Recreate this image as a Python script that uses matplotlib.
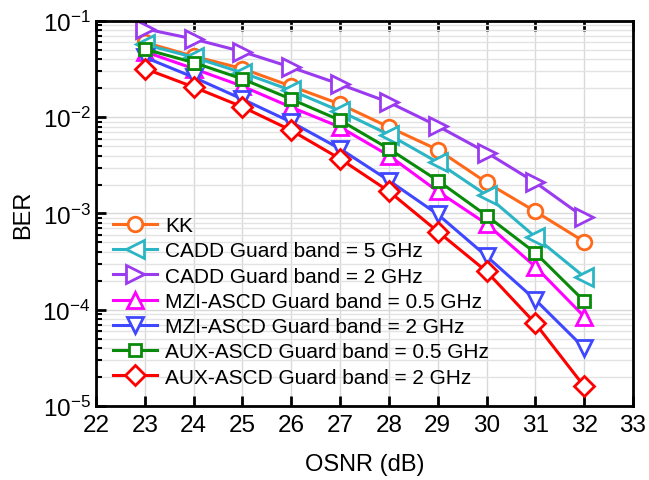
import matplotlib
matplotlib.use("Agg")
import matplotlib.pyplot as plt
from matplotlib.ticker import LogLocator, NullFormatter, FixedLocator

plt.rcParams['font.family'] = ['Liberation Sans', 'DejaVu Sans']

osnr = [23, 24, 25, 26, 27, 28, 29, 30, 31, 32]

ber_kk = [0.060, 0.043, 0.032, 0.021, 0.0137, 0.0079, 0.0046, 0.0021, 0.00105, 0.00051]
ber_cadd5 = [0.057, 0.042, 0.029, 0.019, 0.0116, 0.0066, 0.0034, 0.00155, 0.00057, 0.00022]
ber_cadd2 = [0.083, 0.065, 0.048, 0.033, 0.022, 0.0143, 0.0081, 0.0043, 0.0021, 0.00091]
ber_mzi05 = [0.048, 0.032, 0.021, 0.0127, 0.0079, 0.0040, 0.0017, 0.00078, 0.00028, 8.5e-5]
ber_mzi2 = [0.042, 0.026, 0.0154, 0.0089, 0.0047, 0.0022, 0.00098, 0.00036, 0.000127, 4.0e-5]
ber_aux05 = [0.051, 0.037, 0.025, 0.0154, 0.0093, 0.0047, 0.0022, 0.00095, 0.00039, 0.000123]
ber_aux2 = [0.032, 0.0206, 0.0128, 0.0073, 0.0037, 0.0017, 0.00065, 0.00025, 7.2e-5, 1.6e-5]

labels = ["KK",
          "CADD Guard band = 5 GHz",
          "CADD Guard band = 2 GHz",
          "MZI-ASCD Guard band = 0.5 GHz",
          "MZI-ASCD Guard band = 2 GHz",
          "AUX-ASCD Guard band = 0.5 GHz",
          "AUX-ASCD Guard band = 2 GHz"]

x_ticks = [22, 23, 24, 25, 26, 27, 28, 29, 30, 31, 32, 33]

series = [ber_kk, ber_cadd5, ber_cadd2, ber_mzi05, ber_mzi2, ber_aux05, ber_aux2]
colors = ['#FF6A1A', '#2CB5C4', '#9B3BEF', '#FF00FF', '#3F48FF', '#0A8A0A', '#FF0000']
markers = ['o', '<', '>', '^', 'v', 's', 'D']
msizes = [10.5, 12.5, 12.5, 12, 12, 9, 10]

fig = plt.figure(figsize=(6.49, 4.81), dpi=100)
ax = fig.add_axes([96/649, 1-407/481, (633-96)/649, (407-22)/481])

for y, c, m, ms, lab in zip(series, colors, markers, msizes, labels):
    ax.plot(osnr, y, color=c, marker=m, markersize=ms, markerfacecolor='white',
            markeredgecolor=c, markeredgewidth=2, linewidth=2.2, label=lab)

ax.set_yscale('log')
ax.set_xlim(22, 33)
ax.set_ylim(1e-5, 1e-1)
ax.xaxis.set_major_locator(FixedLocator(x_ticks))
ax.yaxis.set_major_locator(LogLocator(base=10, numticks=10))
ax.yaxis.set_minor_locator(LogLocator(base=10, subs=range(2, 10), numticks=50))
ax.yaxis.set_minor_formatter(NullFormatter())

ax.grid(True, which='major', axis='both', color='#d9d9d9', linewidth=1)
ax.grid(True, which='minor', axis='y', color='#e3e3e3', linewidth=1)
ax.set_axisbelow(True)

for s in ax.spines.values():
    s.set_linewidth(2)

ax.tick_params(axis='x', which='major', direction='in', length=7, width=2,
               top=True, labelsize=17.5, pad=6)
ax.tick_params(axis='y', which='major', direction='in', length=7, width=2,
               right=False, labelsize=17.5, pad=4)
ax.tick_params(axis='y', which='minor', direction='in', length=4, width=1.5, right=False)

ax.set_xlabel('OSNR (dB)', fontsize=17, labelpad=12)
ax.set_ylabel('BER', fontsize=17, labelpad=6)

leg = ax.legend(loc='upper left', bbox_to_anchor=(0.032, 0.493), frameon=False,
                fontsize=15, borderpad=0, borderaxespad=0, handlelength=2.1,
                handletextpad=0.4, labelspacing=0.3)

fig.savefig('out.png', dpi=100)
